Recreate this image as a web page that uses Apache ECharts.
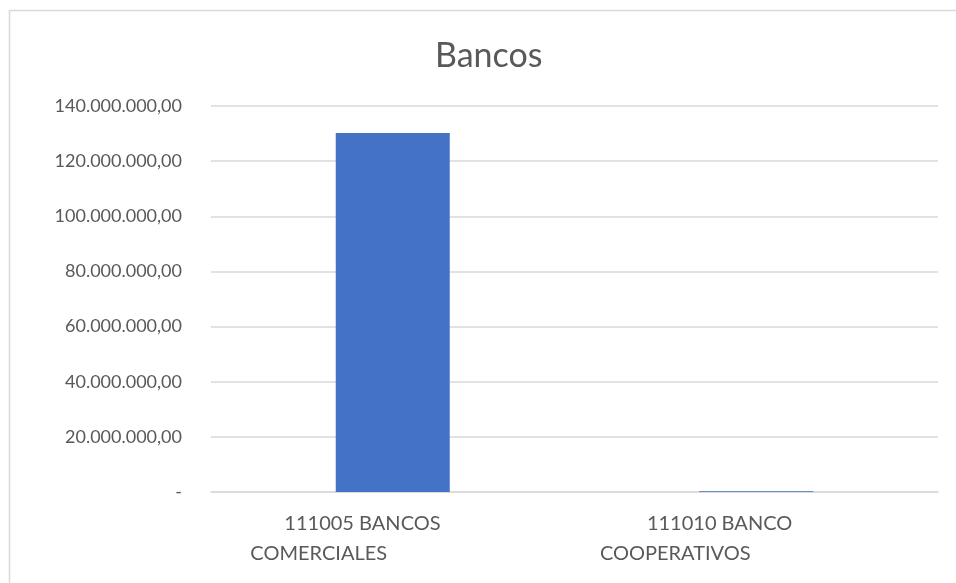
<!DOCTYPE html>
<html><head><meta charset="utf-8">
<script src="https://cdn.jsdelivr.net/npm/echarts@6/dist/echarts.min.js"></script>
<style>html,body{margin:0;padding:0;background:#fff}#c{width:956px;height:583px}</style>
</head><body><div id="c"></div>
<script>
const title = 'Bancos';
const categories = ['111005 BANCOS\nCOMERCIALES', '111010 BANCO\nCOOPERATIVOS'];
const values = [130200000, 300000];
const yTicks = [0, 20000000, 40000000, 60000000, 80000000, 100000000, 120000000, 140000000];

// layout tweaks to mimic the reference's wrapped labels
const labelIndent = [34, 47];
const labelShift = [148, 162];

function fmt(v) {
  if (v === 0) return '-';
  const s = Math.round(v).toString().replace(/\B(?=(\d{3})+(?!\d))/g, '.');
  return s + ',00';
}

const txt = { fontFamily: 'Lato', fontSize: 20, color: '#595959', lineHeight: 30, align: 'left' };
const rich = {};
for (let i = 0; i < categories.length; i++) {
  rich['a' + i] = Object.assign({}, txt, { padding: [0, 0, 0, labelIndent[i]] });
  rich['b' + i] = Object.assign({}, txt, { padding: [0, labelShift[i], 0, 0] });
}

const chart = echarts.init(document.getElementById('c'));
chart.setOption({
  animation: false,
  textStyle: { fontFamily: 'Lato' },
  graphic: [{
    type: 'rect', left: 7, top: 8,
    shape: { width: 1000, height: 700 },
    style: { fill: 'none', stroke: '#d9d9d9', lineWidth: 1.5 }
  }],
  title: {
    text: title, left: 430, top: 34,
    textStyle: { fontFamily: 'Lato', fontSize: 34, fontWeight: 'normal', color: '#595959' }
  },
  grid: { left: 211, right: 18, top: 106, bottom: 91 },
  xAxis: {
    type: 'category', data: categories,
    axisLine: { lineStyle: { color: '#d9d9d9', width: 1.5 } },
    axisTick: { show: false },
    axisLabel: {
      interval: 0, margin: 17,
      formatter: function (v, i) {
        const parts = v.split('\n');
        return '{a' + i + '|' + parts[0] + '}\n{b' + i + '|' + parts[1] + '}';
      },
      rich: rich
    }
  },
  yAxis: {
    type: 'value', min: 0, max: yTicks[yTicks.length - 1], interval: yTicks[1] - yTicks[0],
    axisLine: { show: false }, axisTick: { show: false },
    splitLine: { lineStyle: { color: '#d9d9d9', width: 1.5 } },
    axisLabel: { formatter: fmt, fontFamily: 'Lato', fontSize: 18, color: '#595959', margin: 29 }
  },
  series: [{
    type: 'bar', data: values, barWidth: 114,
    itemStyle: { color: '#4472c4' }
  }]
});
</script></body></html>
